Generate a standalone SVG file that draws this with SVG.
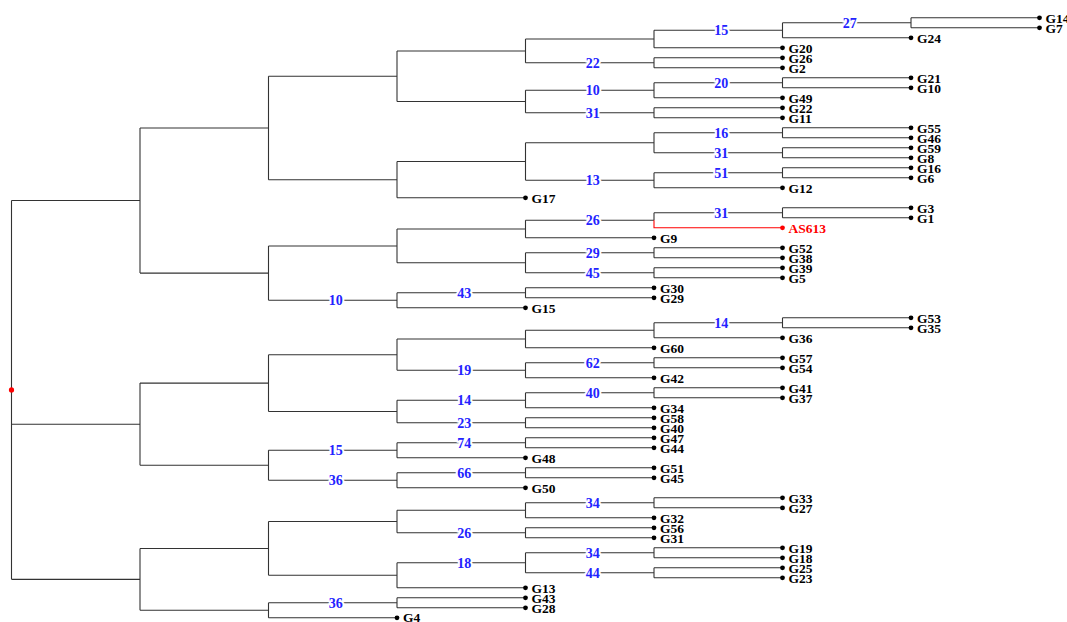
<svg xmlns="http://www.w3.org/2000/svg" width="1067" height="622" viewBox="0 0 1067 622">
<style>
.e{fill:none;stroke:#333333;stroke-width:1.1}
.r{fill:none;stroke:#ff0000;stroke-width:1.1}
.b{font-family:"Liberation Serif",serif;font-weight:bold;font-size:14px;fill:#2323ff;text-anchor:middle;stroke:#ffffff;stroke-width:4;paint-order:stroke;stroke-linejoin:round}
.t{font-family:"Liberation Serif",serif;font-weight:bold;font-size:13.5px;fill:#000}
.d{fill:#000}
</style>
<rect width="1067" height="622" fill="#fff"/>
<g id="connectors">
<path class="e" d="
M11.5 200.53V579.36M11.5 200.53H140M11.5 424.21H140M11.5 579.36H140
M140 127.96V273.11M140 127.96H268.5M140 273.11H268.5
M268.5 76.24V179.69M268.5 76.24H397M268.5 179.69H397
M397 50.93V101.55M397 50.93H525.5M397 101.55H525.5
M525.5 39.05V62.8M525.5 39.05H654M525.5 62.8H654
M654 30.3V47.8M654 30.3H782.5M654 47.8H782.5
M782.5 22.8V37.8M782.5 22.8H911M782.5 37.8H911
M911 17.8V27.8M911 17.8H1039.5M911 27.8H1039.5
M654 57.8V67.8M654 57.8H782.5M654 67.8H782.5
M525.5 90.3V112.8M525.5 90.3H654M525.5 112.8H654
M654 82.8V97.8M654 82.8H782.5M654 97.8H782.5
M782.5 77.8V87.8M782.5 77.8H911M782.5 87.8H911
M654 107.8V117.8M654 107.8H782.5M654 117.8H782.5
M397 161.55V197.8M397 161.55H525.5M397 197.8H525.5
M525.5 142.8V180.3M525.5 142.8H654M525.5 180.3H654
M654 132.8V152.8M654 132.8H782.5M654 152.8H782.5
M782.5 127.8V137.8M782.5 127.8H911M782.5 137.8H911
M782.5 147.8V157.8M782.5 147.8H911M782.5 157.8H911
M654 172.8V187.8M654 172.8H782.5M654 187.8H782.5
M782.5 167.8V177.8M782.5 167.8H911M782.5 177.8H911
M268.5 245.93V300.3M268.5 245.93H397M268.5 300.3H397
M397 229.05V262.8M397 229.05H525.5M397 262.8H525.5
M525.5 220.3V237.8M525.5 220.3H654M525.5 237.8H654
M654 212.8V220.3M654 212.8H782.5
M782.5 207.8V217.8M782.5 207.8H911M782.5 217.8H911
M525.5 252.8V272.8M525.5 252.8H654M525.5 272.8H654
M654 247.8V257.8M654 247.8H782.5M654 257.8H782.5
M654 267.8V277.8M654 267.8H782.5M654 277.8H782.5
M397 292.8V307.8M397 292.8H525.5M397 307.8H525.5
M525.5 287.8V297.8M525.5 287.8H654M525.5 297.8H654
M140 383.11V465.3M140 383.11H268.5M140 465.3H268.5
M268.5 354.68V411.55M268.5 354.68H397M268.5 411.55H397
M397 339.05V370.3M397 339.05H525.5M397 370.3H525.5
M525.5 330.3V347.8M525.5 330.3H654M525.5 347.8H654
M654 322.8V337.8M654 322.8H782.5M654 337.8H782.5
M782.5 317.8V327.8M782.5 317.8H911M782.5 327.8H911
M525.5 362.8V377.8M525.5 362.8H654M525.5 377.8H654
M654 357.8V367.8M654 357.8H782.5M654 367.8H782.5
M397 400.3V422.8M397 400.3H525.5M397 422.8H525.5
M525.5 392.8V407.8M525.5 392.8H654M525.5 407.8H654
M654 387.8V397.8M654 387.8H782.5M654 397.8H782.5
M525.5 417.8V427.8M525.5 417.8H654M525.5 427.8H654
M268.5 450.3V480.3M268.5 450.3H397M268.5 480.3H397
M397 442.8V457.8M397 442.8H525.5M397 457.8H525.5
M525.5 437.8V447.8M525.5 437.8H654M525.5 447.8H654
M397 472.8V487.8M397 472.8H525.5M397 487.8H525.5
M525.5 467.8V477.8M525.5 467.8H654M525.5 477.8H654
M140 548.43V610.3M140 548.43H268.5M140 610.3H268.5
M268.5 521.55V575.3M268.5 521.55H397M268.5 575.3H397
M397 510.3V532.8M397 510.3H525.5M397 532.8H525.5
M525.5 502.8V517.8M525.5 502.8H654M525.5 517.8H654
M654 497.8V507.8M654 497.8H782.5M654 507.8H782.5
M525.5 527.8V537.8M525.5 527.8H654M525.5 537.8H654
M397 562.8V587.8M397 562.8H525.5M397 587.8H525.5
M525.5 552.8V572.8M525.5 552.8H654M525.5 572.8H654
M654 547.8V557.8M654 547.8H782.5M654 557.8H782.5
M654 567.8V577.8M654 567.8H782.5M654 577.8H782.5
M268.5 602.8V617.8M268.5 602.8H397M268.5 617.8H397
M397 597.8V607.8M397 597.8H525.5M397 607.8H525.5"/>
<path class="r" d="M654 220.3V227.8H782.5"/>
<g id="support-values">
<text class="b" x="849.8" y="27.6">27</text>
<text class="b" x="721.3" y="35.1">15</text>
<text class="b" x="592.8" y="67.6">22</text>
<text class="b" x="721.3" y="87.6">20</text>
<text class="b" x="592.8" y="95.1">10</text>
<text class="b" x="592.8" y="117.6">31</text>
<text class="b" x="721.3" y="137.6">16</text>
<text class="b" x="721.3" y="157.6">31</text>
<text class="b" x="721.3" y="177.6">51</text>
<text class="b" x="592.8" y="185.1">13</text>
<text class="b" x="721.3" y="217.6">31</text>
<text class="b" x="592.8" y="225.1">26</text>
<text class="b" x="592.8" y="257.6">29</text>
<text class="b" x="592.8" y="277.6">45</text>
<text class="b" x="464.3" y="297.6">43</text>
<text class="b" x="335.8" y="305.1">10</text>
<text class="b" x="721.3" y="327.6">14</text>
<text class="b" x="592.8" y="367.6">62</text>
<text class="b" x="464.3" y="375.1">19</text>
<text class="b" x="592.8" y="397.6">40</text>
<text class="b" x="464.3" y="405.1">14</text>
<text class="b" x="464.3" y="427.6">23</text>
<text class="b" x="464.3" y="447.6">74</text>
<text class="b" x="335.8" y="455.1">15</text>
<text class="b" x="464.3" y="477.6">66</text>
<text class="b" x="335.8" y="485.1">36</text>
<text class="b" x="592.8" y="507.6">34</text>
<text class="b" x="464.3" y="537.6">26</text>
<text class="b" x="592.8" y="557.6">34</text>
<text class="b" x="464.3" y="567.6">18</text>
<text class="b" x="592.8" y="577.6">44</text>
<text class="b" x="335.8" y="607.6">36</text>
</g>
</g>
<g id="root"><circle cx="11.5" cy="389.95" r="2.6" fill="#ff0000"/></g>
<g id="G14"><circle class="d" cx="1039.5" cy="17.8" r="2.4"/><text class="t" x="1045.5" y="22.5">G14</text></g>
<g id="G7"><circle class="d" cx="1039.5" cy="27.8" r="2.4"/><text class="t" x="1045.5" y="32.5">G7</text></g>
<g id="G24"><circle class="d" cx="911" cy="37.8" r="2.4"/><text class="t" x="917" y="42.5">G24</text></g>
<g id="G20"><circle class="d" cx="782.5" cy="47.8" r="2.4"/><text class="t" x="788.5" y="52.5">G20</text></g>
<g id="G26"><circle class="d" cx="782.5" cy="57.8" r="2.4"/><text class="t" x="788.5" y="62.5">G26</text></g>
<g id="G2"><circle class="d" cx="782.5" cy="67.8" r="2.4"/><text class="t" x="788.5" y="72.5">G2</text></g>
<g id="G21"><circle class="d" cx="911" cy="77.8" r="2.4"/><text class="t" x="917" y="82.5">G21</text></g>
<g id="G10"><circle class="d" cx="911" cy="87.8" r="2.4"/><text class="t" x="917" y="92.5">G10</text></g>
<g id="G49"><circle class="d" cx="782.5" cy="97.8" r="2.4"/><text class="t" x="788.5" y="102.5">G49</text></g>
<g id="G22"><circle class="d" cx="782.5" cy="107.8" r="2.4"/><text class="t" x="788.5" y="112.5">G22</text></g>
<g id="G11"><circle class="d" cx="782.5" cy="117.8" r="2.4"/><text class="t" x="788.5" y="122.5">G11</text></g>
<g id="G55"><circle class="d" cx="911" cy="127.8" r="2.4"/><text class="t" x="917" y="132.5">G55</text></g>
<g id="G46"><circle class="d" cx="911" cy="137.8" r="2.4"/><text class="t" x="917" y="142.5">G46</text></g>
<g id="G59"><circle class="d" cx="911" cy="147.8" r="2.4"/><text class="t" x="917" y="152.5">G59</text></g>
<g id="G8"><circle class="d" cx="911" cy="157.8" r="2.4"/><text class="t" x="917" y="162.5">G8</text></g>
<g id="G16"><circle class="d" cx="911" cy="167.8" r="2.4"/><text class="t" x="917" y="172.5">G16</text></g>
<g id="G6"><circle class="d" cx="911" cy="177.8" r="2.4"/><text class="t" x="917" y="182.5">G6</text></g>
<g id="G12"><circle class="d" cx="782.5" cy="187.8" r="2.4"/><text class="t" x="788.5" y="192.5">G12</text></g>
<g id="G17"><circle class="d" cx="525.5" cy="197.8" r="2.4"/><text class="t" x="531.5" y="202.5">G17</text></g>
<g id="G3"><circle class="d" cx="911" cy="207.8" r="2.4"/><text class="t" x="917" y="212.5">G3</text></g>
<g id="G1"><circle class="d" cx="911" cy="217.8" r="2.4"/><text class="t" x="917" y="222.5">G1</text></g>
<g id="AS613"><circle cx="782.5" cy="227.8" r="2.4" fill="#ff0000"/><text class="t" x="788.5" y="232.5" style="fill:#ff0000">AS613</text></g>
<g id="G9"><circle class="d" cx="654" cy="237.8" r="2.4"/><text class="t" x="660" y="242.5">G9</text></g>
<g id="G52"><circle class="d" cx="782.5" cy="247.8" r="2.4"/><text class="t" x="788.5" y="252.5">G52</text></g>
<g id="G38"><circle class="d" cx="782.5" cy="257.8" r="2.4"/><text class="t" x="788.5" y="262.5">G38</text></g>
<g id="G39"><circle class="d" cx="782.5" cy="267.8" r="2.4"/><text class="t" x="788.5" y="272.5">G39</text></g>
<g id="G5"><circle class="d" cx="782.5" cy="277.8" r="2.4"/><text class="t" x="788.5" y="282.5">G5</text></g>
<g id="G30"><circle class="d" cx="654" cy="287.8" r="2.4"/><text class="t" x="660" y="292.5">G30</text></g>
<g id="G29"><circle class="d" cx="654" cy="297.8" r="2.4"/><text class="t" x="660" y="302.5">G29</text></g>
<g id="G15"><circle class="d" cx="525.5" cy="307.8" r="2.4"/><text class="t" x="531.5" y="312.5">G15</text></g>
<g id="G53"><circle class="d" cx="911" cy="317.8" r="2.4"/><text class="t" x="917" y="322.5">G53</text></g>
<g id="G35"><circle class="d" cx="911" cy="327.8" r="2.4"/><text class="t" x="917" y="332.5">G35</text></g>
<g id="G36"><circle class="d" cx="782.5" cy="337.8" r="2.4"/><text class="t" x="788.5" y="342.5">G36</text></g>
<g id="G60"><circle class="d" cx="654" cy="347.8" r="2.4"/><text class="t" x="660" y="352.5">G60</text></g>
<g id="G57"><circle class="d" cx="782.5" cy="357.8" r="2.4"/><text class="t" x="788.5" y="362.5">G57</text></g>
<g id="G54"><circle class="d" cx="782.5" cy="367.8" r="2.4"/><text class="t" x="788.5" y="372.5">G54</text></g>
<g id="G42"><circle class="d" cx="654" cy="377.8" r="2.4"/><text class="t" x="660" y="382.5">G42</text></g>
<g id="G41"><circle class="d" cx="782.5" cy="387.8" r="2.4"/><text class="t" x="788.5" y="392.5">G41</text></g>
<g id="G37"><circle class="d" cx="782.5" cy="397.8" r="2.4"/><text class="t" x="788.5" y="402.5">G37</text></g>
<g id="G34"><circle class="d" cx="654" cy="407.8" r="2.4"/><text class="t" x="660" y="412.5">G34</text></g>
<g id="G58"><circle class="d" cx="654" cy="417.8" r="2.4"/><text class="t" x="660" y="422.5">G58</text></g>
<g id="G40"><circle class="d" cx="654" cy="427.8" r="2.4"/><text class="t" x="660" y="432.5">G40</text></g>
<g id="G47"><circle class="d" cx="654" cy="437.8" r="2.4"/><text class="t" x="660" y="442.5">G47</text></g>
<g id="G44"><circle class="d" cx="654" cy="447.8" r="2.4"/><text class="t" x="660" y="452.5">G44</text></g>
<g id="G48"><circle class="d" cx="525.5" cy="457.8" r="2.4"/><text class="t" x="531.5" y="462.5">G48</text></g>
<g id="G51"><circle class="d" cx="654" cy="467.8" r="2.4"/><text class="t" x="660" y="472.5">G51</text></g>
<g id="G45"><circle class="d" cx="654" cy="477.8" r="2.4"/><text class="t" x="660" y="482.5">G45</text></g>
<g id="G50"><circle class="d" cx="525.5" cy="487.8" r="2.4"/><text class="t" x="531.5" y="492.5">G50</text></g>
<g id="G33"><circle class="d" cx="782.5" cy="497.8" r="2.4"/><text class="t" x="788.5" y="502.5">G33</text></g>
<g id="G27"><circle class="d" cx="782.5" cy="507.8" r="2.4"/><text class="t" x="788.5" y="512.5">G27</text></g>
<g id="G32"><circle class="d" cx="654" cy="517.8" r="2.4"/><text class="t" x="660" y="522.5">G32</text></g>
<g id="G56"><circle class="d" cx="654" cy="527.8" r="2.4"/><text class="t" x="660" y="532.5">G56</text></g>
<g id="G31"><circle class="d" cx="654" cy="537.8" r="2.4"/><text class="t" x="660" y="542.5">G31</text></g>
<g id="G19"><circle class="d" cx="782.5" cy="547.8" r="2.4"/><text class="t" x="788.5" y="552.5">G19</text></g>
<g id="G18"><circle class="d" cx="782.5" cy="557.8" r="2.4"/><text class="t" x="788.5" y="562.5">G18</text></g>
<g id="G25"><circle class="d" cx="782.5" cy="567.8" r="2.4"/><text class="t" x="788.5" y="572.5">G25</text></g>
<g id="G23"><circle class="d" cx="782.5" cy="577.8" r="2.4"/><text class="t" x="788.5" y="582.5">G23</text></g>
<g id="G13"><circle class="d" cx="525.5" cy="587.8" r="2.4"/><text class="t" x="531.5" y="592.5">G13</text></g>
<g id="G43"><circle class="d" cx="525.5" cy="597.8" r="2.4"/><text class="t" x="531.5" y="602.5">G43</text></g>
<g id="G28"><circle class="d" cx="525.5" cy="607.8" r="2.4"/><text class="t" x="531.5" y="612.5">G28</text></g>
<g id="G4"><circle class="d" cx="397" cy="617.8" r="2.4"/><text class="t" x="403" y="622">G4</text></g>
</svg>
